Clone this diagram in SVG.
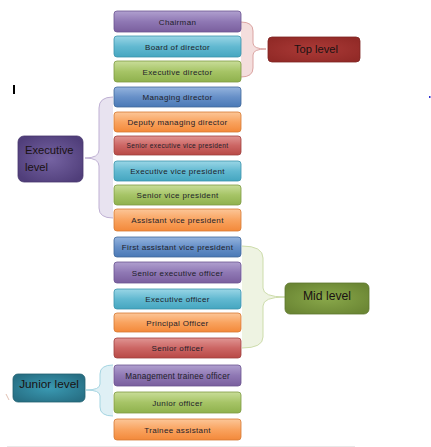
<svg xmlns="http://www.w3.org/2000/svg" width="431" height="447" viewBox="0 0 431 447">
<defs>
<linearGradient id="gPurple" x1="0" y1="0" x2="0" y2="1"><stop offset="0" stop-color="#b0a0cf"/><stop offset="0.5" stop-color="#8f78b4"/><stop offset="1" stop-color="#7a5f9e"/></linearGradient>
<linearGradient id="gAqua" x1="0" y1="0" x2="0" y2="1"><stop offset="0" stop-color="#9ad6e6"/><stop offset="0.5" stop-color="#62b9d1"/><stop offset="1" stop-color="#45a6c0"/></linearGradient>
<linearGradient id="gGreen" x1="0" y1="0" x2="0" y2="1"><stop offset="0" stop-color="#c9dd99"/><stop offset="0.5" stop-color="#a6c466"/><stop offset="1" stop-color="#8fb14d"/></linearGradient>
<linearGradient id="gBlue" x1="0" y1="0" x2="0" y2="1"><stop offset="0" stop-color="#95b4de"/><stop offset="0.5" stop-color="#6790c8"/><stop offset="1" stop-color="#4a79b6"/></linearGradient>
<linearGradient id="gOrange" x1="0" y1="0" x2="0" y2="1"><stop offset="0" stop-color="#fcc698"/><stop offset="0.5" stop-color="#f9a35f"/><stop offset="1" stop-color="#f3893a"/></linearGradient>
<linearGradient id="gRed" x1="0" y1="0" x2="0" y2="1"><stop offset="0" stop-color="#e09593"/><stop offset="0.5" stop-color="#cc6664"/><stop offset="1" stop-color="#b84946"/></linearGradient>
<radialGradient id="rTop" cx="0.5" cy="0.5" r="0.6"><stop offset="0" stop-color="#ab3a37"/><stop offset="1" stop-color="#922a27"/></radialGradient>
<radialGradient id="rExec" cx="0.5" cy="0.5" r="0.6"><stop offset="0" stop-color="#7563a2"/><stop offset="1" stop-color="#503e7a"/></radialGradient>
<radialGradient id="rMid" cx="0.5" cy="0.5" r="0.6"><stop offset="0" stop-color="#89a84a"/><stop offset="1" stop-color="#6b8634"/></radialGradient>
<radialGradient id="rJun" cx="0.5" cy="0.5" r="0.6"><stop offset="0" stop-color="#3a9ab3"/><stop offset="1" stop-color="#276f84"/></radialGradient>
</defs>
<style>
.b{stroke-width:0.8}
.purple{fill:url(#gPurple);stroke:#6b5391}
.aqua{fill:url(#gAqua);stroke:#3b93ab}
.green{fill:url(#gGreen);stroke:#7d9a43}
.blue{fill:url(#gBlue);stroke:#3f679a}
.orange{fill:url(#gOrange);stroke:#d67a33}
.red{fill:url(#gRed);stroke:#9f3f3d}
.t{font-family:"Liberation Sans",Arial,sans-serif;font-size:8px;letter-spacing:0.35px;fill:#1e1e2a;text-anchor:middle}
.lv{font-family:"Liberation Sans",Arial,sans-serif;fill:#1a1212}
.br{stroke-width:1}
</style>
<rect width="431" height="447" fill="#ffffff"/>
<g id="connectors">
<path class="br" d="M241,22 Q253,22 253,31 L253,43 Q253,49 266,49 Q253,49 253,55 L253,68 Q253,77 241,77" fill="#f4dedd" stroke="#dba4a2"/>
<path class="br" d="M113,97 Q99,97 99,108 L99,150 Q99,158 85,158 Q99,158 99,166 L99,208 Q99,218 113,218" fill="#e8e3f0" stroke="#bfb0d3"/>
<path class="br" d="M242,246 Q263,246 263,258 L263,288 Q263,297 285,297 Q263,297 263,306 L263,337 Q263,348 242,348" fill="#eef3e2" stroke="#cddcab"/>
<path class="br" d="M113,365 Q100,365 100,374 L100,384 Q100,390 86,390 Q100,390 100,396 L100,407 Q100,416 113,416" fill="#dff0f5" stroke="#a5d5e2"/>
</g>
<g id="chairman"><rect class="b purple" x="114" y="11" width="127" height="21" rx="3"/><text class="t" x="177.5" y="24.5">Chairman</text></g>
<g id="board"><rect class="b aqua" x="114" y="36" width="127" height="21" rx="3"/><text class="t" x="177.5" y="49.5">Board of director</text></g>
<g id="execdir"><rect class="b green" x="114" y="61" width="127" height="21" rx="3"/><text class="t" x="177.5" y="74.5">Executive director</text></g>
<g id="managing"><rect class="b blue" x="114" y="87" width="127" height="20" rx="3"/><text class="t" x="177.5" y="100">Managing director</text></g>
<g id="deputy"><rect class="b orange" x="114" y="112" width="127" height="20" rx="3"/><text class="t" x="177.5" y="125">Deputy managing director</text></g>
<g id="sevp"><rect class="b red" x="114" y="136" width="127" height="19" rx="3"/><text class="t" x="177.5" y="148" style="font-size:6.6px">Senior executive vice president</text></g>
<g id="evp"><rect class="b aqua" x="114" y="161" width="127" height="20" rx="3"/><text class="t" x="177.5" y="174">Executive vice president</text></g>
<g id="svp"><rect class="b green" x="114" y="185" width="127" height="20" rx="3"/><text class="t" x="177.5" y="198">Senior vice president</text></g>
<g id="avp"><rect class="b orange" x="114" y="209" width="127" height="22" rx="3"/><text class="t" x="177.5" y="223">Assistant vice president</text></g>
<g id="favp"><rect class="b blue" x="114" y="237" width="127" height="20" rx="3"/><text class="t" x="177.5" y="250">First assistant vice president</text></g>
<g id="seo"><rect class="b purple" x="114" y="262" width="127" height="21" rx="3"/><text class="t" x="177.5" y="275.5">Senior executive officer</text></g>
<g id="eo"><rect class="b aqua" x="114" y="289" width="127" height="20" rx="3"/><text class="t" x="177.5" y="302">Executive officer</text></g>
<g id="po"><rect class="b orange" x="114" y="313" width="127" height="19" rx="3"/><text class="t" x="177.5" y="325.5">Principal Officer</text></g>
<g id="so"><rect class="b red" x="114" y="338" width="127" height="20" rx="3"/><text class="t" x="177.5" y="351">Senior officer</text></g>
<g id="mto"><rect class="b purple" x="114" y="365" width="127" height="21" rx="3"/><text class="t" x="177.5" y="378.5" style="letter-spacing:0.2px;font-size:8.2px">Management trainee officer</text></g>
<g id="jo"><rect class="b green" x="114" y="392" width="127" height="21" rx="3"/><text class="t" x="177.5" y="405.5">Junior  officer</text></g>
<g id="ta"><rect class="b orange" x="114" y="419" width="127" height="21" rx="3"/><text class="t" x="177.5" y="432.5">Trainee assistant</text></g>
<g id="toplevel"><rect x="268" y="37" width="92" height="25" rx="4" fill="url(#rTop)" stroke="#7e2422" stroke-width="0.8"/><text class="lv" x="316" y="53" font-size="11.2" text-anchor="middle">Top level</text></g>
<g id="execlevel"><rect x="18" y="136" width="65" height="46" rx="6" fill="url(#rExec)" stroke="#46366c" stroke-width="0.8"/><text class="lv" x="25" y="154" font-size="11.2">Executive</text><text class="lv" x="25" y="171" font-size="11.2">level</text></g>
<g id="midlevel"><rect x="285" y="283" width="84" height="31" rx="5" fill="url(#rMid)" stroke="#5e762e" stroke-width="0.8"/><text class="lv" x="327" y="300" font-size="12.2" text-anchor="middle">Mid level</text></g>
<g id="juniorlevel"><rect x="13" y="374" width="72" height="28" rx="5" fill="url(#rJun)" stroke="#21606f" stroke-width="0.8"/><text class="lv" x="49" y="388" font-size="11.8" text-anchor="middle">Junior level</text></g>
<rect x="13" y="85" width="2" height="9" fill="#000000"/>
<rect x="429" y="96" width="1.5" height="2" fill="#3030d0"/>
<line x1="6" y1="394" x2="9" y2="400" stroke="#d8b0a0" stroke-width="0.8"/>
<line x1="7" y1="446.5" x2="355" y2="446.5" stroke="#e8e8e8" stroke-width="1"/>
</svg>
